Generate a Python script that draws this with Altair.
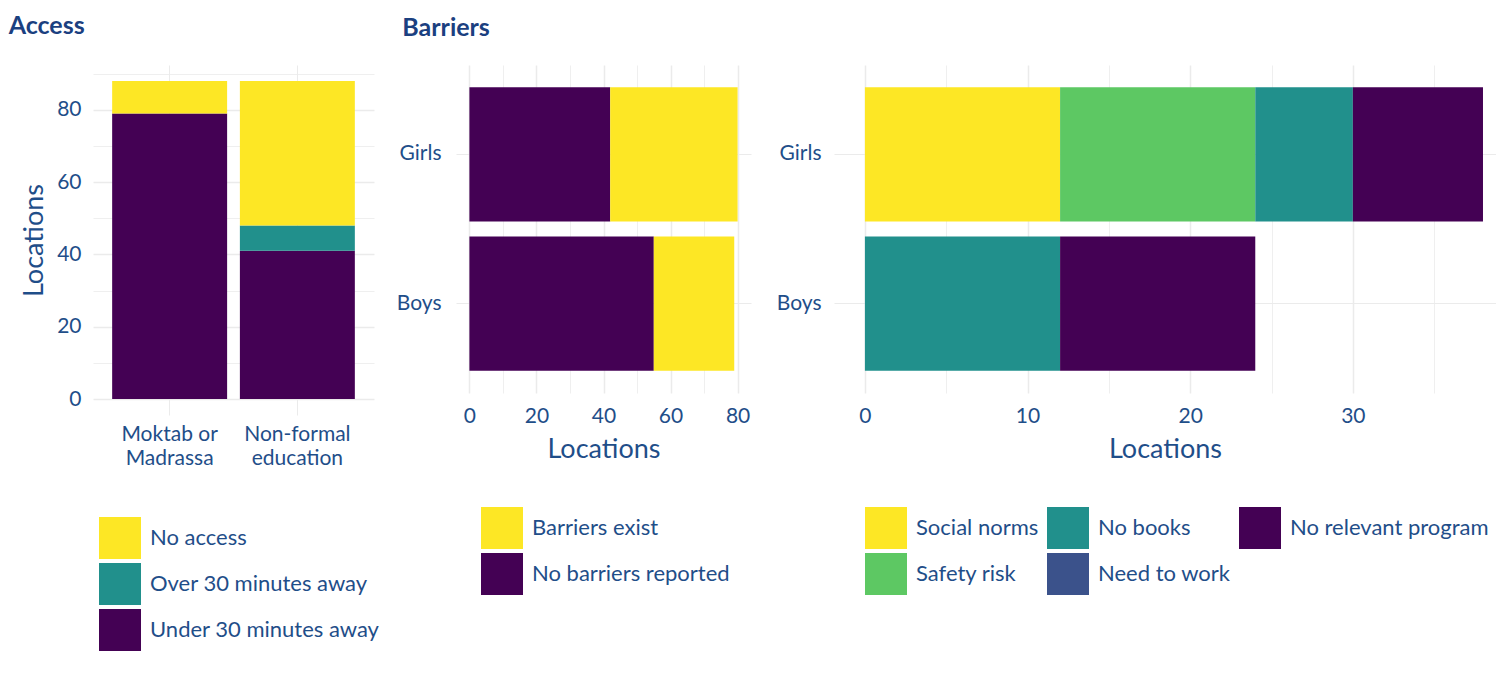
import altair as alt
import pandas as pd

# ---------------- data ----------------
access_categories = ["Moktab or Madrassa", "Non-formal education"]
access_category_lines = [["Moktab or", "Madrassa"], ["Non-formal", "education"]]
access_levels = ["No access", "Over 30 minutes away", "Under 30 minutes away"]
access_no_access = [9, 40]
access_over_30 = [0, 7]
access_under_30 = [79, 41]

groups = ["Girls", "Boys"]
barrier_levels = ["Barriers exist", "No barriers reported"]
barriers_exist = [38, 24]
no_barriers = [42, 55]

reason_levels = ["Social norms", "Safety risk", "No books", "Need to work", "No relevant program"]
social_norms = [12, 0]
safety_risk = [12, 0]
no_books = [6, 12]
need_to_work = [0, 0]
no_relevant_program = [8, 12]

# ---------------- style ----------------
YELLOW, GREEN, TEAL, BLUE, PURPLE = "#FDE725", "#5DC863", "#21908C", "#3B528B", "#440154"
TEXT = "#1F4E89"
TITLE = "#1B4080"
FONT = "Lato"
GRID = "#EBEBEB"

# ---------------- tables ----------------
rows = []
for i, c in enumerate(access_categories):
    for lvl, vals, o in [("Under 30 minutes away", access_under_30, 0),
                         ("Over 30 minutes away", access_over_30, 1),
                         ("No access", access_no_access, 2)]:
        rows.append({"category": c, "level": lvl, "value": vals[i], "stack": o})
access_df = pd.DataFrame(rows)

rows = []
for i, g in enumerate(groups):
    rows.append({"group": g, "level": "No barriers reported", "value": no_barriers[i], "stack": 0})
    rows.append({"group": g, "level": "Barriers exist", "value": barriers_exist[i], "stack": 1})
b1_df = pd.DataFrame(rows)

reason_vals = [social_norms, safety_risk, no_books, need_to_work, no_relevant_program]
rows = []
for i, g in enumerate(groups):
    for k, lvl in enumerate(reason_levels):
        rows.append({"group": g, "level": lvl, "value": reason_vals[k][i], "stack": k})
b2_df = pd.DataFrame(rows)

# ---------------- helpers ----------------
label_expr = ""
for name, lines in zip(access_categories, access_category_lines):
    arr = "[" + ",".join("'%s'" % s for s in lines) + "]"
    label_expr += "datum.label == '%s' ? %s : " % (name, arr)
label_expr += "datum.label"


def grid_width(step):
    return {"condition": {"test": "datum.value %% %d === 0" % step, "value": 1.5}, "value": 0.8}


def legend(x, y, columns=1):
    return alt.Legend(
        title=None, orient="none", legendX=x, legendY=y, columns=columns,
        symbolType="square", symbolSize=1764, symbolStrokeWidth=0, symbolOpacity=1,
        labelFontSize=22, labelFont=FONT, labelColor=TEXT, labelLimit=400,
        labelOffset=9, rowPadding=4, columnPadding=8,
    )


def title(text, dx, color=TITLE):
    return alt.TitleParams(text, anchor="start", fontSize=25, fontWeight="bold",
                           font=FONT, color=color, dx=dx, offset=24)


band_scale = alt.Scale(paddingInner=0.1, paddingOuter=0.15)

# ---------------- Access ----------------
access = alt.Chart(access_df).mark_bar(strokeWidth=0).encode(
    x=alt.X("category:N", sort=access_categories, scale=band_scale,
            axis=alt.Axis(title=None, labelExpr=label_expr, grid=True, bandPosition=0.5,
                          labelAngle=0, labelPadding=8, labelLineHeight=24)),
    y=alt.Y("value:Q", stack="zero",
            scale=alt.Scale(domain=[-4.4, 92.4], nice=False, zero=False),
            axis=alt.Axis(title="Locations", values=list(range(0, 100, 10)),
                          labelExpr="datum.value % 20 === 0 ? datum.label : ''",
                          gridWidth=grid_width(20), labelPadding=12, titlePadding=8)),
    color=alt.Color("level:N", scale=alt.Scale(domain=access_levels, range=[YELLOW, TEAL, PURPLE]),
                    legend=legend(6, 452)),
    order=alt.Order("stack:Q"),
).properties(width=281, height=350, title=title("Access", -12))

# ---------------- Barriers 1 ----------------
b1 = alt.Chart(b1_df).mark_bar(strokeWidth=0).encode(
    y=alt.Y("group:N", sort=groups, scale=band_scale,
            axis=alt.Axis(title=None, grid=True, bandPosition=0.5, labelPadding=15)),
    x=alt.X("value:Q", stack="zero",
            scale=alt.Scale(domain=[-4, 84], nice=False, zero=False),
            axis=alt.Axis(title="Locations", values=list(range(0, 90, 10)),
                          labelExpr="datum.value % 20 === 0 ? datum.label : ''",
                          gridWidth=grid_width(20), labelPadding=12, titlePadding=10)),
    color=alt.Color("level:N", scale=alt.Scale(domain=barrier_levels, range=[YELLOW, PURPLE]),
                    legend=legend(25, 442)),
    order=alt.Order("stack:Q"),
).properties(width=295, height=328, title=title("Barriers", 6))

# ---------------- Barriers 2 ----------------
reason_colors = [YELLOW, GREEN, TEAL, BLUE, PURPLE]
b2 = alt.Chart(b2_df).mark_bar(strokeWidth=0).encode(
    y=alt.Y("group:N", sort=groups, scale=band_scale,
            axis=alt.Axis(title=None, grid=True, bandPosition=0.5, labelPadding=13)),
    x=alt.X("value:Q", stack="zero",
            scale=alt.Scale(domain=[-1.9, 38.8], nice=False, zero=False),
            axis=alt.Axis(title="Locations", values=list(range(0, 40, 5)),
                          labelExpr="datum.value % 10 === 0 ? datum.label : ''",
                          gridWidth=grid_width(10), labelPadding=12, titlePadding=10)),
    color=alt.Color("level:N",
                    scale=alt.Scale(domain=reason_levels, range=reason_colors),
                    legend=legend(31, 442, columns=3)),
    order=alt.Order("stack:Q"),
).properties(width=662, height=328, title=title("Barriers", 6, color="rgba(0,0,0,0)"))

barriers = alt.hconcat(b1, b2, spacing=25).resolve_scale(color="independent")

chart = alt.hconcat(access, barriers, spacing=16).resolve_scale(color="independent").properties(
    padding={"left": 0, "top": 5, "right": 0, "bottom": 0}
).configure_view(strokeWidth=0).configure_axis(
    labelFont=FONT, titleFont=FONT, labelColor=TEXT, titleColor=TEXT,
    labelFontSize=21, titleFontSize=27, titleFontWeight="normal",
    gridColor=GRID, domain=False, ticks=False, labelOverlap=False,
)

chart.save("out.html", embed_options={"renderer": "svg", "actions": False})
